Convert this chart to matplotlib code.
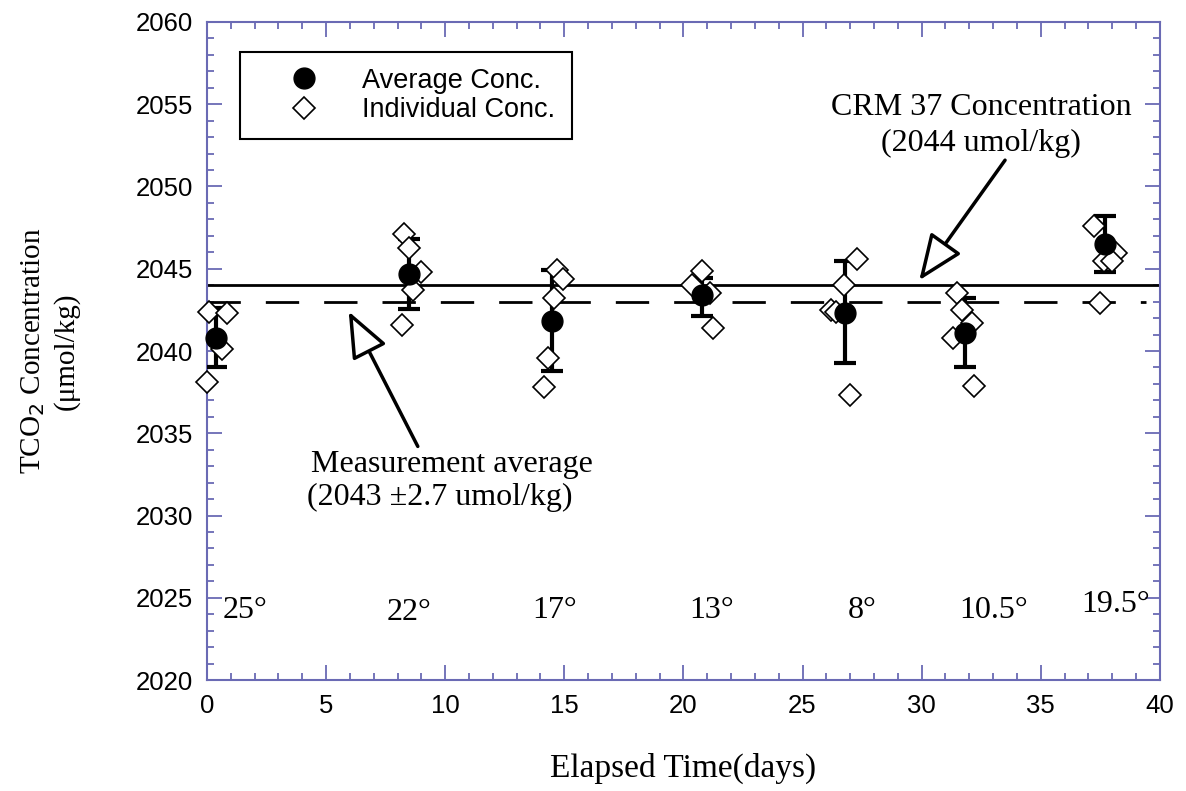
import matplotlib.pyplot as plt
from matplotlib.lines import Line2D
from matplotlib.ticker import MultipleLocator

SPINE = '#6a6ab4'
SERIF = ['Liberation Serif', 'DejaVu Serif']
SANS = ['Liberation Sans', 'DejaVu Sans']

# averages per run (elapsed days, concentration, error bar limits)
avg_days = [0.4, 8.5, 14.5, 20.8, 26.8, 31.8, 37.7]
avg_conc = [2040.8, 2044.7, 2041.8, 2043.4, 2042.3, 2041.1, 2046.5]
err_low = [2039.0, 2042.55, 2038.8, 2042.1, 2039.25, 2039.05, 2044.8]
err_high = [2042.6, 2046.8, 2044.95, 2044.45, 2045.45, 2043.25, 2048.2]

# individual measurements
ind_days = [0.0, 0.1, 0.85, 0.65,
            8.25, 8.5, 9.0, 8.65, 8.2,
            14.7, 14.95, 14.55, 14.3, 14.15,
            20.8, 20.35, 21.1, 21.25,
            27.3, 26.75, 26.2, 26.4, 27.0,
            31.5, 31.7, 32.1, 31.3, 32.2,
            37.25, 38.15, 37.65, 38.0, 37.5]
ind_conc = [2038.1, 2042.4, 2042.3, 2040.1,
            2047.1, 2046.25, 2044.8, 2043.7, 2041.6,
            2044.9, 2044.4, 2043.2, 2039.6, 2037.8,
            2044.85, 2044.0, 2043.5, 2041.4,
            2045.6, 2044.0, 2042.5, 2042.4, 2037.35,
            2043.5, 2042.5, 2041.7, 2040.8, 2037.85,
            2047.6, 2045.95, 2045.45, 2045.45, 2042.9]

crm_conc = 2044
meas_avg = 2043

temp_days = [1.6, 8.5, 14.6, 21.2, 27.5, 33.0, 38.15]
temp_conc = [2024.2, 2024.1, 2024.2, 2024.2, 2024.2, 2024.2, 2024.6]
temp_labels = ['25°', '22°', '17°', '13°', '8°', '10.5°', '19.5°']

fig = plt.figure(figsize=(11.86, 7.91), dpi=100)
ax = fig.add_axes([0.1745, 0.1403, 0.8035, 0.8319])

ax.axhline(crm_conc, color='black', lw=2)
ax.plot([0, 39.4], [meas_avg, meas_avg], color='black', lw=2, dashes=(12, 9))

lower = [a - l for a, l in zip(avg_conc, err_low)]
upper = [h - a for a, h in zip(avg_conc, err_high)]
ax.errorbar(avg_days, avg_conc, yerr=[lower, upper], fmt='none', ecolor='black',
            elinewidth=3, capsize=8, capthick=3, zorder=3)
ax.plot(ind_days, ind_conc, 'D', ms=11.5, mfc='white', mec='black', mew=1.2, ls='none', zorder=4,
        clip_on=False)
ax.plot(avg_days, avg_conc, 'o', ms=15, color='black', ls='none', zorder=5, clip_on=False)

for d, c, t in zip(temp_days, temp_conc, temp_labels):
    ax.text(d, c, t, ha='center', va='center', fontsize=23, family=SERIF)

arrow = dict(arrowstyle='-|>,head_length=1.1,head_width=0.45', fc='white', ec='black',
             lw=2.5, mutation_scale=26, shrinkA=0, shrinkB=0)
ax.annotate('', xy=(5.95, 2042.4), xytext=(8.85, 2034.2), arrowprops=arrow)
ax.annotate('', xy=(29.9, 2044.3), xytext=(33.5, 2051.6), arrowprops=arrow)

ax.text(4.35, 2033.1, 'Measurement average', ha='left', va='center', fontsize=23, family=SERIF)
ax.text(4.2, 2031.1, '(2043 \u00b12.7 umol/kg)', ha='left', va='center', fontsize=23, family=SERIF)
ax.text(26.2, 2054.8, 'CRM 37 Concentration', ha='left', va='center', fontsize=23, family=SERIF)
ax.text(28.3, 2052.6, '(2044 umol/kg)', ha='left', va='center', fontsize=23, family=SERIF)

ax.set_xlim(0, 40)
ax.set_ylim(2020, 2060)
ax.xaxis.set_major_locator(MultipleLocator(5))
ax.xaxis.set_minor_locator(MultipleLocator(1))
ax.yaxis.set_major_locator(MultipleLocator(5))
ax.yaxis.set_minor_locator(MultipleLocator(1))
ax.tick_params(which='both', direction='in', top=True, right=True, color=SPINE, width=1.3)
ax.tick_params(which='major', length=11, labelsize=18.5, pad=10)
ax.tick_params(which='minor', length=5)
for lab in ax.get_xticklabels() + ax.get_yticklabels():
    lab.set_family(SANS)
for s in ax.spines.values():
    s.set_color(SPINE)
    s.set_linewidth(1.5)

ax.set_xlabel('Elapsed Time(days)', fontsize=24, family=SERIF, labelpad=25)
ax.set_ylabel('TCO$_2$ Concentration\n(\u03bcmol/kg)', fontsize=21, family=SERIF, labelpad=40,
              linespacing=1.3)

handles = [Line2D([], [], marker='o', ms=15, color='black', ls='none'),
           Line2D([], [], marker='D', ms=11, mfc='white', mec='black', mew=1.2, ls='none')]
leg = ax.legend(handles, ['Average Conc.', 'Individual Conc.'], loc='upper left',
                bbox_to_anchor=(0.035, 0.955), prop={'family': SANS, 'size': 19.5}, fancybox=False,
                edgecolor='black', framealpha=1, borderpad=0.6, handletextpad=0.4,
                labelspacing=0.12, borderaxespad=0, handlelength=3.5)
leg.get_frame().set_linewidth(1.5)

fig.savefig('out.png', dpi=100)
